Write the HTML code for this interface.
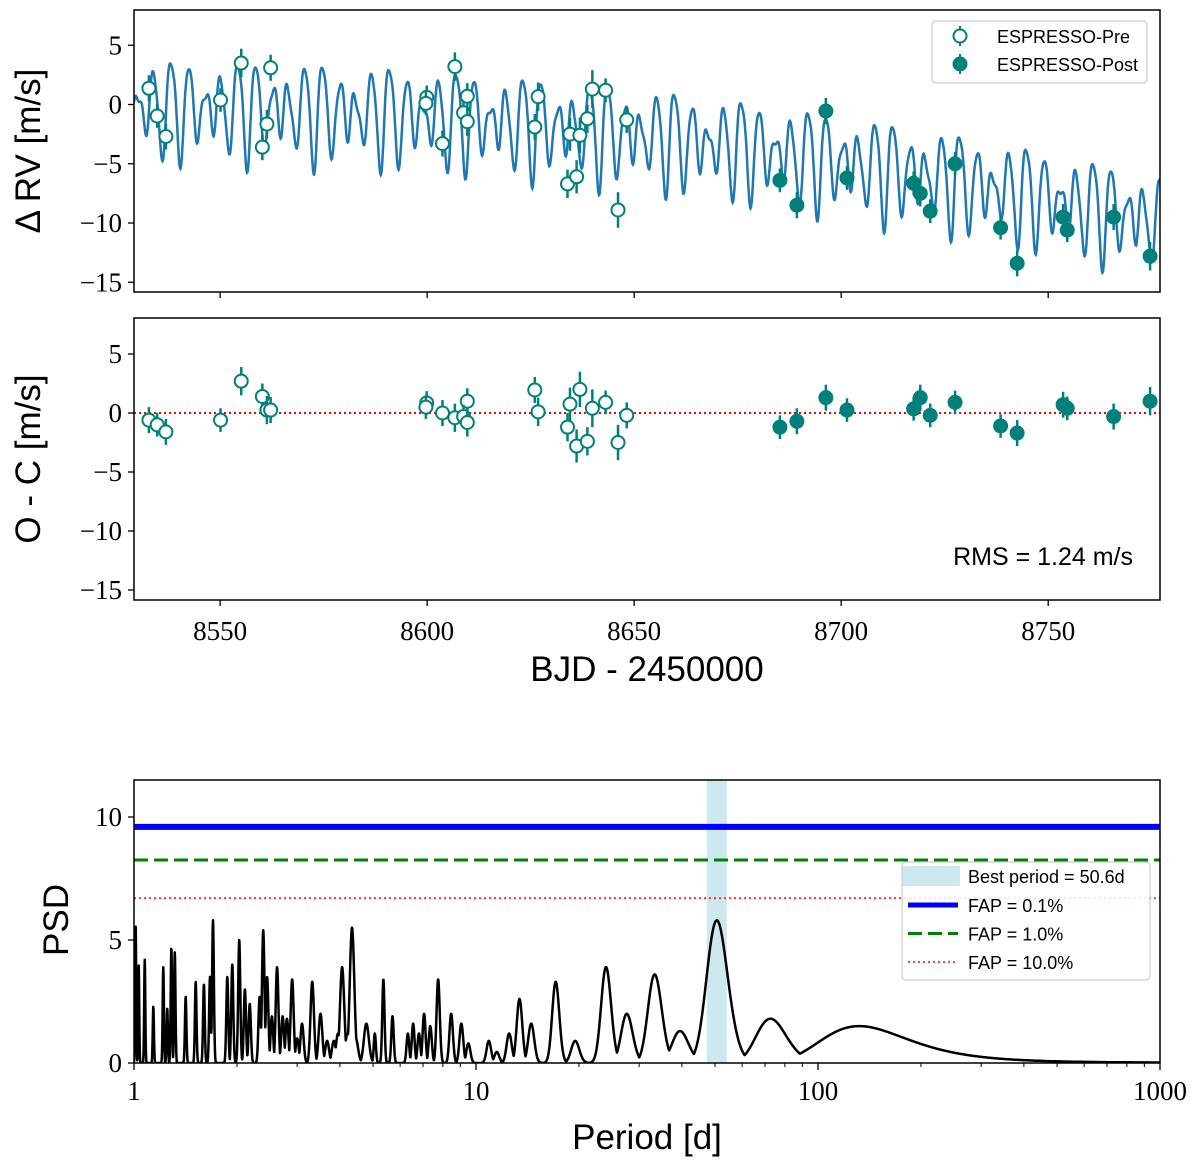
<!DOCTYPE html>
<html><head><meta charset="utf-8">
<style>
body{margin:0;background:#fff;}
svg{display:block;font-family:"Liberation Serif",serif;}
.sans{font-family:"Liberation Sans",sans-serif;}
</style></head>
<body>
<svg id="fig" width="1200" height="1165" viewBox="0 0 1200 1165" xmlns="http://www.w3.org/2000/svg"></svg>
<script>
// ---- data ----
const preT=[8532.8,8534.8,8536.9,8550.1,8555.1,8560.2,8561.3,8562.2,8599.9,8599.7,8603.7,8606.7,8609.7,8608.8,8609.7,8626.0,8626.8,8633.9,8634.5,8636.1,8636.9,8638.7,8639.9,8643.1,8646.1,8648.2];
const preRV=[1.37,-0.97,-2.7,0.38,3.5,-3.6,-1.65,3.1,0.6,0.1,-3.3,3.2,0.7,-0.7,-1.45,-1.9,0.66,-6.7,-2.5,-6.1,-2.6,-1.2,1.3,1.2,-8.9,-1.3];
const preErr=[1.1,1.0,1.1,1.0,1.2,1.1,1.2,1.1,1.0,1.0,1.1,1.2,1.1,1.0,1.2,1.1,1.2,1.2,1.4,1.4,1.5,1.2,1.6,1.0,1.5,1.1];
const preRes=[-0.6,-1.0,-1.6,-0.6,2.7,1.4,0.25,0.25,0.85,0.5,0,-0.4,1.0,-0.3,-0.8,1.95,0.1,-1.2,0.75,-2.8,2.0,-2.4,0.4,0.9,-2.5,-0.2];
const postT=[8685.2,8689.3,8696.3,8701.4,8717.5,8719.1,8721.5,8727.5,8738.5,8742.5,8753.6,8754.6,8765.8,8774.6];
const postRV=[-6.4,-8.5,-0.55,-6.2,-6.65,-7.5,-9.0,-5.0,-10.4,-13.4,-9.5,-10.6,-9.5,-12.8];
const postErr=[1.0,1.1,1.1,1.0,1.0,1.1,1.0,1.0,1.0,1.1,1.1,1.0,1.1,1.2];
const postRes=[-1.2,-0.7,1.3,0.25,0.35,1.3,-0.2,0.9,-1.1,-1.7,0.7,0.4,-0.3,1.0];
// model parameters (trend + two periodic signals)
const modelPeriods=[4.05,5.3];
const modelAmps=[3.0,1.5];
const modelPhases=[0.3,1.9];
const trendQuad=-1.58e-4, trendOffset=-0.3;
// periodogram peaks
const peakPeriods=[1.011,1.032,1.075,1.139,1.218,1.251,1.286,1.316,1.416,1.515,1.601,1.668,1.702,1.874,1.938,2.031,2.11,2.18,2.33,2.387,2.45,2.53,2.62,2.72,2.80,2.90,3.0,3.10,3.32,3.51,3.67,3.84,3.95,4.06,4.21,4.34,4.45,4.78,5.06,5.36,5.70,6.32,6.55,6.81,7.05,7.35,7.75,8.46,9.06,9.5,10.9,11.5,12.5,13.4,14.5,17.1,19.5,24.0,27.6,33.3,39.5,50.6,72.6,132];
const peakPSD=[5.7,4.0,4.2,2.3,3.9,2.2,4.7,4.5,2.7,3.3,3.2,3.5,5.8,3.5,4.0,5.0,3.0,2.4,2.7,5.4,3.5,1.9,3.9,1.9,1.8,3.4,1.0,1.6,3.3,2.0,0.9,0.9,1.2,3.9,1.2,5.5,1.0,1.6,1.2,3.4,1.9,1.2,1.6,1.2,2.0,1.5,3.4,2.0,1.6,0.8,0.9,0.45,1.2,2.6,1.6,3.3,0.9,3.9,2.0,3.6,1.3,5.8,1.8,1.5];
const fapLevels=[9.6,8.25,6.7];
const fapLabels=["FAP = 0.1%","FAP = 1.0%","FAP = 10.0%"];
const bestPeriod=50.6;
const timeTicks=[8550,8600,8650,8700,8750];
const rvTicks=[5,0,-5,-10,-15];
const psdTicks=[0,5,10];
const perTicks=[1,10,100,1000];

// ---- axes ----
const P1={l:134,r:1160,t:10,b:292}, P2={l:134,r:1160,t:318,b:600}, P3={l:134,r:1160,t:780,b:1063};
const tMin=8529.2,tMax=8777.0;
const xT=t=>P1.l+(t-tMin)/(tMax-tMin)*(P1.r-P1.l);
const yR1=v=>104.5-v*11.85;
const yR2=v=>413-v*11.8;
const xP=p=>P3.l+Math.log10(p)*342;
const yP=v=>P3.b-v*24.6;
const svg=document.getElementById('fig');
const NS='http://www.w3.org/2000/svg';
function mk(tag,attrs,parent){const e=document.createElementNS(NS,tag);for(const k in attrs)e.setAttribute(k,attrs[k]);(parent||svg).appendChild(e);return e;}
function txt(s,attrs,parent){const e=mk('text',attrs,parent);e.textContent=s;return e;}
const teal='#00807a';

function frame(P,name){
  const r=mk('rect',{x:P.l,y:P.t,width:P.r-P.l,height:P.b-P.t,fill:'none',stroke:'#000','stroke-width':1.5});
  
  
}
const defs=mk('defs',{});
[[P1,'c1'],[P2,'c2'],[P3,'c3']].forEach(([P,id])=>{const c=mk('clipPath',{id:id},defs);mk('rect',{x:P.l,y:P.t,width:P.r-P.l,height:P.b-P.t},c);});

// ---- panel 1 model curve ----
function model(t){let v=trendOffset+trendQuad*(t-tMin)*(t-tMin);for(let i=0;i<modelPeriods.length;i++){const ph=2*Math.PI*t/modelPeriods[i]+modelPhases[i];v+=modelAmps[i]*Math.sin(ph)+0.2*modelAmps[i]*Math.sin(2*ph+1.2);}return v;}
let d='';for(let t=tMin;t<=tMax;t+=0.1){d+=(d?'L':'M')+xT(t).toFixed(1)+','+yR1(model(t)).toFixed(1);}
const g1=mk('g',{'clip-path':'url(#c1)'});
const mc=mk('path',{d:d,fill:'none',stroke:'#1f77b4','stroke-width':2.5},g1);



function points(g,ts,vs,es,yf,open,name){
  for(let i=0;i<ts.length;i++){
    const x=xT(ts[i]),y=yf(vs[i]);
    const l=mk('line',{x1:x,x2:x,y1:yf(vs[i]+es[i]),y2:yf(vs[i]-es[i]),stroke:teal,'stroke-width':2.5},g);
    
    
    const c=mk('circle',{cx:x,cy:y,r:6.5,fill:open?'#fff':teal,stroke:teal,'stroke-width':2},g);
    
    
  }
}
points(g1,preT,preRV,preErr,yR1,true,'espresso-pre');
points(g1,postT,postRV,postErr,yR1,false,'espresso-post');
frame(P1,'rv-panel');

// ---- panel 2 residuals ----
const g2=mk('g',{'clip-path':'url(#c2)'});
const zl=mk('line',{x1:P2.l,x2:P2.r,y1:yR2(0),y2:yR2(0),stroke:'#f00','stroke-width':2,'stroke-dasharray':'2,3'},g2);


points(g2,preT,preRes,preErr,yR2,true,'residual-pre');
points(g2,postT,postRes,postErr,yR2,false,'residual-post');
frame(P2,'residual-panel');

[[yR1,P1],[yR2,P2]].forEach(([yf,P],k)=>{
  rvTicks.forEach(v=>{const y=yf(v);mk('line',{x1:P.l-6,x2:P.l,y1:y,y2:y,stroke:'#000','stroke-width':1.3});
    const s=v<0?'\u2212'+(-v):''+v;
    const t=txt(s,{x:P.l-12,y:y+9,'text-anchor':'end','font-size':27});
    
    });
  timeTicks.forEach(tv=>{const x=xT(tv);mk('line',{x1:x,x2:x,y1:P.b,y2:P.b+6,stroke:'#000','stroke-width':1.3});});
});
timeTicks.forEach(tv=>{const t=txt(''+tv,{x:xT(tv),y:640,'text-anchor':'middle','font-size':27});
  
  });
let lab=txt('BJD - 2450000',{x:647,y:681,'text-anchor':'middle','font-size':35,class:'sans'});

lab=txt('\u0394 RV [m/s]',{x:0,y:0,'text-anchor':'middle','font-size':35,class:'sans',transform:'translate(40,151) rotate(-90)'});

lab=txt('O - C [m/s]',{x:0,y:0,'text-anchor':'middle','font-size':35,class:'sans',transform:'translate(40,459) rotate(-90)'});

lab=txt('RMS = 1.24 m/s',{x:1133,y:565,'text-anchor':'end','font-size':25,class:'sans'});


const lg1=mk('g',{});


mk('rect',{x:932,y:21,width:215,height:62,rx:4,fill:'#fff',stroke:'#ccc','stroke-width':1.2},lg1);
mk('line',{x1:960,x2:960,y1:26,y2:46,stroke:teal,'stroke-width':2},lg1);
mk('circle',{cx:960,cy:36,r:6.5,fill:'#fff',stroke:teal,'stroke-width':2},lg1);
mk('line',{x1:960,x2:960,y1:54,y2:74,stroke:teal,'stroke-width':2},lg1);
mk('circle',{cx:960,cy:64,r:7,fill:teal,stroke:teal},lg1);
txt('ESPRESSO-Pre',{x:997,y:43,'font-size':18,class:'sans'},lg1);
txt('ESPRESSO-Post',{x:997,y:71,'font-size':18,class:'sans'},lg1);

// ---- panel 3 periodogram ----
const g3=mk('g',{'clip-path':'url(#c3)'});
const band=mk('rect',{x:706,y:P3.t,width:20,height:P3.b-P3.t,fill:'#add8e6',opacity:0.6},g3);


band.setAttribute('x',xP(bestPeriod)-10);
const fapStyles=[{stroke:'#0000ff','stroke-width':6},{stroke:'#008000','stroke-width':3,'stroke-dasharray':'14,6'},{stroke:'#ff0000','stroke-width':1.5,'stroke-dasharray':'2,3'}];
fapLevels.forEach((v,i)=>{const a=Object.assign({x1:P3.l,x2:P3.r,y1:yP(v),y2:yP(v)},fapStyles[i]);const l=mk('line',a,g3);
  
  });
const sig=0.0014;
function psd(p){const f=1/p;let s=0;for(let i=0;i<peakPeriods.length;i++){const df=(f-1/peakPeriods[i]);let w=sig;if(peakPeriods[i]>100)w=sig*1.6;else if(peakPeriods[i]<5)w=sig*2.5;s=Math.max(s,peakPSD[i]*Math.exp(-df*df/(2*w*w)));}return s;}
let pd='';for(let px=P3.l;px<=P3.r;px+=0.25){const p=Math.pow(10,(px-P3.l)/342);pd+=(pd?'L':'M')+px.toFixed(2)+','+yP(psd(p)).toFixed(1);}
const pl=mk('path',{d:pd,fill:'none',stroke:'#000','stroke-width':2.5,'stroke-linejoin':'round'},g3);


frame(P3,'periodogram-panel');
psdTicks.forEach(v=>{const y=yP(v);mk('line',{x1:P3.l-6,x2:P3.l,y1:y,y2:y,stroke:'#000','stroke-width':1.3});
  const t=txt(''+v,{x:P3.l-12,y:y+9,'text-anchor':'end','font-size':27});
  
  });
perTicks.forEach(p=>{const x=xP(p);mk('line',{x1:x,x2:x,y1:P3.b,y2:P3.b+7,stroke:'#000','stroke-width':1.3});
  const t=txt(''+p,{x:x,y:1100,'text-anchor':'middle','font-size':27});
  
  
  if(p<1000)for(let m=2;m<10;m++){const xm=xP(p*m);mk('line',{x1:xm,x2:xm,y1:P3.b,y2:P3.b+4,stroke:'#000','stroke-width':1});}});
lab=txt('Period [d]',{x:647,y:1149,'text-anchor':'middle','font-size':35,class:'sans'});

lab=txt('PSD',{x:0,y:0,'text-anchor':'middle','font-size':35,class:'sans',transform:'translate(68,920) rotate(-90)'});


const lg3=mk('g',{});


mk('rect',{x:902,y:862,width:248,height:118,rx:4,fill:'#fff','fill-opacity':0.85,stroke:'#ccc','stroke-width':1.2},lg3);
mk('rect',{x:902,y:866,width:58,height:20,fill:'#add8e6',opacity:0.6},lg3);
txt('Best period = 50.6d',{x:968,y:883,'font-size':18,class:'sans'},lg3);
fapLabels.forEach((s,i)=>{const y=905+i*28.5;const a=Object.assign({x1:908,x2:958,y1:y,y2:y},fapStyles[i]);if(i==0)a['stroke-width']=5;mk('line',a,lg3);
  txt(s,{x:968,y:y+7,'font-size':18,class:'sans'},lg3);});
</script>
</body></html>
